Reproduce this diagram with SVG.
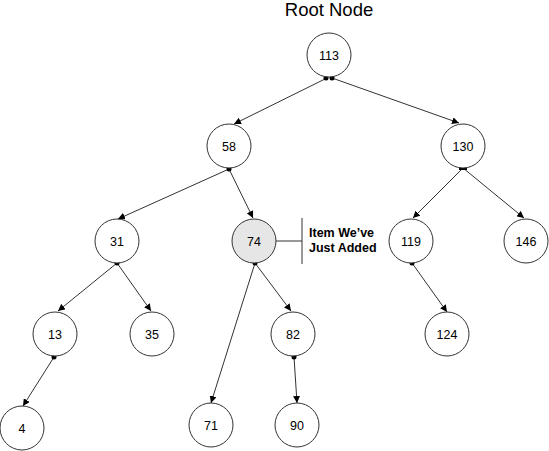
<svg xmlns="http://www.w3.org/2000/svg" width="549" height="451" viewBox="0 0 549 451">
<style>
.n{fill:#fff;stroke:#333;stroke-width:1}
.hl{fill:#e6e6e6}
.t{font-family:"Liberation Sans",Arial,sans-serif;font-size:12.5px;fill:#000;text-anchor:middle}
.c{stroke:#333;stroke-width:1;fill:none;marker-end:url(#ah)}
.d{fill:#000}
.lb{font-family:"Liberation Sans",Arial,sans-serif;font-size:12.5px;font-weight:bold;fill:#000}
</style>
<defs>
<marker id="ah" viewBox="0 0 10 10" refX="10" refY="5" markerWidth="7" markerHeight="7" orient="auto" markerUnits="userSpaceOnUse">
<path d="M0,0 L10,5 L0,10 z" fill="#000"/>
</marker>
</defs>
<text x="329" y="16" font-family="Liberation Sans,Arial,sans-serif" font-size="18.5" text-anchor="middle">Root Node</text>
<g id="connectors">
<line class="c" x1="327" y1="78" x2="234" y2="124"/>
<line class="c" x1="332" y1="78" x2="459" y2="123"/>
<line class="c" x1="229" y1="169" x2="118" y2="219"/>
<line class="c" x1="229" y1="169" x2="253" y2="218"/>
<line class="c" x1="463" y1="168" x2="413" y2="218"/>
<line class="c" x1="463" y1="168" x2="524" y2="218"/>
<line class="c" x1="117" y1="263" x2="58" y2="311"/>
<line class="c" x1="117" y1="263" x2="151" y2="311"/>
<line class="c" x1="54" y1="357" x2="23" y2="406"/>
<line class="c" x1="255" y1="263" x2="211" y2="403"/>
<line class="c" x1="255" y1="263" x2="291" y2="311"/>
<line class="c" x1="294" y1="357" x2="297" y2="403"/>
<line class="c" x1="412" y1="263" x2="447" y2="312"/>
<circle class="d" cx="326" cy="78" r="2.5"/>
<circle class="d" cx="332" cy="78" r="2.5"/>
<circle class="d" cx="229" cy="169" r="2.5"/>
<rect class="d" x="459" y="166" width="8" height="4"/>
<circle class="d" cx="117" cy="263" r="2.5"/>
<circle class="d" cx="255" cy="263" r="2.5"/>
<circle class="d" cx="54" cy="357" r="2.5"/>
<circle class="d" cx="412" cy="263" r="2.5"/>
<circle class="d" cx="294" cy="357" r="2.5"/>
</g>
<g id="n113"><circle class="n" cx="329" cy="55" r="22"/><text class="t" x="329" y="59.5">113</text></g>
<g id="n58"><circle class="n" cx="229" cy="146" r="22"/><text class="t" x="229" y="150.5">58</text></g>
<g id="n130"><circle class="n" cx="463" cy="146" r="22"/><text class="t" x="463" y="150.5">130</text></g>
<g id="n31"><circle class="n" cx="117" cy="241" r="22"/><text class="t" x="117" y="245.5">31</text></g>
<g id="n74"><circle class="n hl" cx="254" cy="241" r="22"/><text class="t" x="254" y="245.5">74</text></g>
<g id="n119"><circle class="n" cx="411" cy="241" r="22"/><text class="t" x="411" y="245.5">119</text></g>
<g id="n146"><circle class="n" cx="526" cy="241" r="22"/><text class="t" x="526" y="245.5">146</text></g>
<g id="n13"><circle class="n" cx="55" cy="334" r="22"/><text class="t" x="55" y="338.5">13</text></g>
<g id="n35"><circle class="n" cx="152" cy="334" r="22"/><text class="t" x="152" y="338.5">35</text></g>
<g id="n82"><circle class="n" cx="293" cy="334" r="22"/><text class="t" x="293" y="338.5">82</text></g>
<g id="n124"><circle class="n" cx="447" cy="334" r="22"/><text class="t" x="447" y="338.5">124</text></g>
<g id="n4"><circle class="n" cx="22" cy="428" r="22"/><text class="t" x="22" y="432.5">4</text></g>
<g id="n71"><circle class="n" cx="211" cy="425" r="22"/><text class="t" x="211" y="429.5">71</text></g>
<g id="n90"><circle class="n" cx="297" cy="425" r="22"/><text class="t" x="297" y="429.5">90</text></g>
<g id="label">
<line x1="276" y1="241" x2="302" y2="241" stroke="#333"/>
<line x1="302" y1="218" x2="302" y2="264" stroke="#333"/>
<text class="lb" x="309" y="236.5">Item We’ve</text>
<text class="lb" x="309" y="251.5">Just Added</text>
</g>
</svg>
